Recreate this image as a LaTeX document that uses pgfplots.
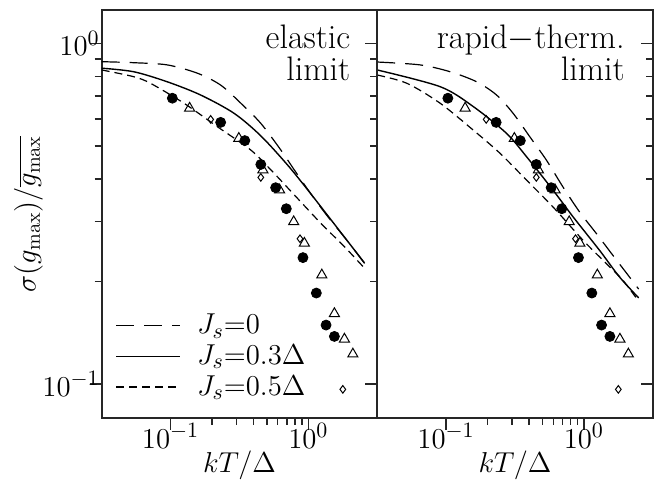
\documentclass[border=0pt]{standalone}
\usepackage{pgfplots}
\pgfplotsset{compat=1.18}

\pgfplotstableread{
x y
0.103 0.690
0.231 0.586
0.346 0.518
0.452 0.441
0.579 0.377
0.692 0.327
0.914 0.235
1.143 0.185
1.345 0.149
1.546 0.138
}\circles
\pgfplotstableread{
x y
0.1375 0.645
0.313 0.526
0.468 0.425
0.619 0.371
0.783 0.2995
0.936 0.259
1.253 0.209
1.546 0.161
1.828 0.1355
2.105 0.1225
}\triangles
\pgfplotstableread{
x y
0.1955 0.598
0.452 0.404
0.870 0.267
1.780 0.0965
}\diamonds

\tikzset{
  jzero/.style={black, line width=0.6pt, dash pattern=on 9pt off 5pt},
  jthree/.style={black, line width=0.7pt},
  jfive/.style={black, line width=0.6pt, dash pattern=on 4pt off 2.5pt},
}

\begin{document}
\begin{tikzpicture}
\pgfplotsset{
  every axis/.append style={
    xmode=log, ymode=log, scale only axis,
    width=137.75pt, height=203.85pt,
    xmin=0.031623, xmax=3.1623, ymin=0.0797, ymax=1.252,
    xtick={0.1,1}, ytick={0.1,1},
    axis line style={black!85, line width=0.9pt},
    every tick/.style={black!85, line width=0.7pt},
    major tick length=6pt, minor tick length=3.5pt,
    tick label style={font=\fontsize{15}{17}\selectfont},
    xticklabel style={yshift=6.5pt},
    yticklabel style={xshift=8.5pt},
    label style={font=\fontsize{15}{17}\selectfont},
    xlabel style={at={(axis description cs:0.5,0)}, anchor=base, yshift=-27.5pt},
  },
}
% left panel: elastic limit
\begin{axis}[at={(50.85pt,31.65pt)}, anchor=south west,
  xtick pos=left, ytick pos=left, tick align=outside,
  xlabel={$kT/\Delta$}, ylabel={$\sigma(g_{\max})/\overline{g_{\max}}$},
  ylabel style={at={(axis description cs:-0.188,0.5)}, anchor=south, font=\fontsize{14}{17}\selectfont},
  legend style={draw=none, fill=none, at={(rel axis cs:0,0)}, anchor=south west,
    xshift=3.8pt, yshift=5.5pt, font=\fontsize{15}{17}\selectfont,
    legend cell align=left, row sep=0pt},
  legend image code/.code={\draw[#1] (0pt,0pt) -- (31.7pt,0pt); \path (38pt,0pt);},
]
\addplot[jzero, smooth] coordinates {(0.0316,0.883) (0.054,0.877) (0.0946,0.864) (0.1565,0.817) (0.231,0.754) (0.3235,0.667) (0.452,0.582) (0.632,0.486) (0.791,0.425) (1.046,0.361) (1.385,0.310) (1.937,0.262) (2.56,0.226)};
\addlegendentry{$J_{s}{=}0$}
\addplot[jthree, smooth] coordinates {(0.0316,0.845) (0.054,0.825) (0.0946,0.771) (0.1654,0.705) (0.289,0.623) (0.452,0.535) (0.708,0.439) (1.0,0.3695) (1.385,0.312) (2.55,0.227)};
\addlegendentry{$J_{s}{=}0.3\Delta$}
\addplot[jfive, smooth] coordinates {(0.0316,0.835) (0.054,0.798) (0.0715,0.763) (0.125,0.667) (0.2188,0.569) (0.3825,0.486) (0.535,0.425) (0.791,0.359) (1.237,0.296) (1.828,0.253) (2.5,0.221)};
\addlegendentry{$J_{s}{=}0.5\Delta$}
\addplot[only marks, mark=triangle, mark size=2.9pt, mark options={solid, fill=white, line width=0.5pt}, forget plot] table {\triangles};
\addplot[only marks, mark=diamond, mark size=1.9pt, mark options={solid, fill=white, line width=0.5pt}, forget plot] table {\diamonds};
\addplot[only marks, mark=*, mark size=2.5pt, mark options={solid, fill=black}, forget plot] table {\circles};
\node[anchor=base east, inner sep=0pt, xshift=-13.3pt, yshift=-19.5pt, font=\fontsize{17}{20}\selectfont] at (rel axis cs:1,1) {elastic};
\node[anchor=base east, inner sep=0pt, xshift=-13.3pt, yshift=-35.5pt, font=\fontsize{17}{20}\selectfont] at (rel axis cs:1,1) {limit};
\end{axis}

% right panel: rapid-thermalization limit
\begin{axis}[at={(188.6pt,31.65pt)}, anchor=south west,
  xtick pos=left, ytick pos=left, tick align=outside, yticklabels={},
  xlabel={$kT/\Delta$},
]
\addplot[jzero, smooth] coordinates {(0.0316,0.881) (0.0648,0.864) (0.107,0.825) (0.1667,0.771) (0.2325,0.705) (0.3066,0.623) (0.405,0.532) (0.535,0.454) (0.705,0.379) (0.931,0.320) (1.229,0.277) (1.621,0.239) (2.138,0.2065) (2.5,0.190)};
\addplot[jthree, smooth] coordinates {(0.0316,0.835) (0.0905,0.746) (0.1576,0.652) (0.2747,0.544) (0.3833,0.465) (0.597,0.371) (0.833,0.310) (1.299,0.247) (1.81,0.2065) (2.5,0.179)};
\addplot[jfive, smooth] coordinates {(0.0316,0.807) (0.052,0.763) (0.0905,0.667) (0.1576,0.556) (0.2457,0.476) (0.3833,0.397) (0.597,0.331) (0.983,0.2647) (1.452,0.226) (1.914,0.202) (2.5,0.175)};
\addplot[only marks, mark=triangle, mark size=2.9pt, mark options={solid, fill=white, line width=0.5pt}] table {\triangles};
\addplot[only marks, mark=diamond, mark size=1.9pt, mark options={solid, fill=white, line width=0.5pt}] table {\diamonds};
\addplot[only marks, mark=*, mark size=2.5pt, mark options={solid, fill=black}] table {\circles};
\node[anchor=base east, inner sep=0pt, xshift=-13.8pt, yshift=-19.5pt, font=\fontsize{17}{20}\selectfont] at (rel axis cs:1,1) {rapid$-$therm.};
\node[anchor=base east, inner sep=0pt, xshift=-13.8pt, yshift=-35.5pt, font=\fontsize{17}{20}\selectfont] at (rel axis cs:1,1) {limit};
\end{axis}

% inward ticks on the right edge of the right panel
\begin{axis}[at={(188.6pt,31.65pt)}, anchor=south west,
  xtick=\empty, minor xtick={},
  ytick pos=right, tick align=inside, yticklabels={},
]
\addplot[draw=none, forget plot] coordinates {(1,1)};
\end{axis}

\pgfresetboundingbox
\path (0pt,0pt) rectangle (328pt,240.5pt);
\end{tikzpicture}
\end{document}
